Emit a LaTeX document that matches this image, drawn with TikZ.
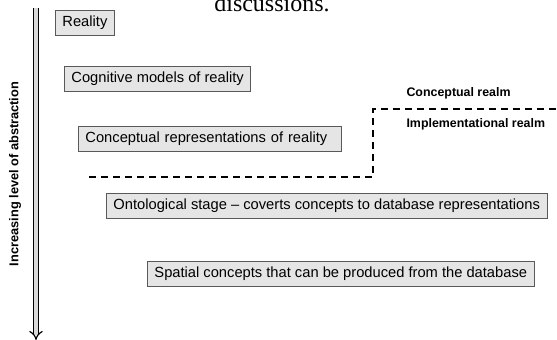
\documentclass[tikz,border=0pt]{standalone}
\usepackage{fontspec}
\setmainfont{Liberation Sans}
\newfontfamily\pageserif{Liberation Serif}
\usetikzlibrary{arrows.meta}
\begin{document}
\begin{tikzpicture}[x=1pt,y=-1pt,
  stagebox/.style={draw=black!65, fill=black!10, line width=0.9pt, anchor=north west,
    minimum height=25pt, inner xsep=7pt, font=\fontsize{14.7}{17}\selectfont},
  realm/.style={anchor=west, font=\fontsize{12.4}{14}\selectfont\bfseries},
  divider/.style={line width=1.8pt, dash pattern=on 7pt off 5pt}]
\useasboundingbox (0,0) rectangle (557,340);
% running text of the page, cut by the top edge
\node[anchor=base, inner sep=0pt, font=\pageserif\fontsize{24}{26}\selectfont] (pagetext) at (272,12) {discussions.};
% axis of abstraction
\coordinate (axtop) at (36,8);
\coordinate (axbot) at (36,340);
\draw[double=black!15, double distance=3.4pt, line width=1.2pt, -{Implies}] (axtop) -- (axbot);
\node[rotate=90, font=\fontsize{12.8}{14}\selectfont\bfseries] (axlabel) at (15,174) {Increasing level of abstraction};
% stages
\node[stagebox] (reality) at (55,10) {Reality};
\node[stagebox] (cognitive) at (64,66) {Cognitive models of reality};
\node[stagebox, text width=249pt, align=left] (conceptual) at (78,126) {Conceptual representations of reality};
\node[stagebox] (ontological) at (106,193) {Ontological stage -- coverts concepts to database representations};
\node[stagebox] (spatial) at (147,261) {Spatial concepts that can be produced from the database};
% realm border
\coordinate (dv1) at (89,177);
\coordinate (dv2) at (373,177);
\coordinate (dv3) at (373,109);
\coordinate (dv4) at (557,109);
\draw[divider] (dv1) -- (dv2) -- (dv3) -- (dv4);
\node[realm] (concrealm) at (403,93) {Conceptual realm};
\node[realm] (implrealm) at (403,124) {Implementational realm};
\end{tikzpicture}
\end{document}
